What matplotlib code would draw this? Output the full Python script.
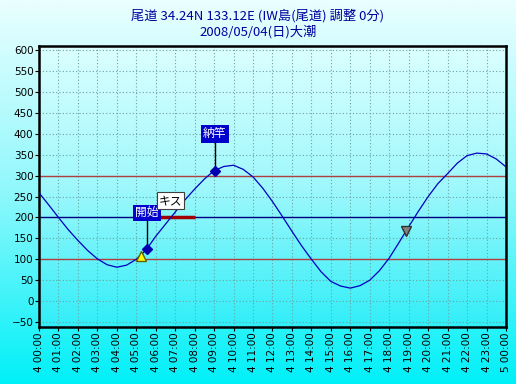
import matplotlib
matplotlib.use('Agg')
import matplotlib.pyplot as plt
import numpy as np
from matplotlib.colors import LinearSegmentedColormap

plt.rcParams['font.family'] = ['Noto Sans CJK JP', 'DejaVu Sans']

# tide level (cm) read every 30 min, 4 00:00 .. 5 00:00
times = [i * 0.5 for i in range(49)]
tide = [259, 230, 200, 171, 145, 121, 101, 87, 81, 86, 100, 122, 155, 184,
        213, 242, 268, 292, 312, 322, 325, 315, 297, 270, 238, 203, 167, 132,
        100, 70, 47, 36, 31, 37, 50, 73, 103, 140, 178, 215, 250, 281, 305,
        330, 348, 354, 352, 340, 321]
hours = list(range(25))
tick_labels = ['4 %02d:00' % h for h in range(24)] + ['5 00:00']

# reference levels
red_levels = [100, 300]
blue_level = 200

# events
start_t, start_v = 5.55, 124      # 開始
end_t, end_v = 9.04, 312          # 納竿
fish_t, fish_v = 6.78, 240        # キス label position
tri_up_t, tri_up_v = 5.25, 107
tri_dn_t, tri_dn_v = 18.85, 167
bar_t = [5.6, 8.0]

fig = plt.figure(figsize=(5.16, 3.84), dpi=100)

# figure gradient background
bg = fig.add_axes([0, 0, 1, 1], zorder=-10)
bg.axis('off')
cm_fig = LinearSegmentedColormap.from_list('f', ['#eaffff', '#8ff8fc', '#00f0f8'])
bg.imshow(np.linspace(0, 1, 256).reshape(-1, 1), aspect='auto', cmap=cm_fig,
          extent=[0, 1, 0, 1], origin='upper')

ax = fig.add_axes([0.0756, 0.1484, 0.9050, 0.7316])
ax.set_xlim(0, 24)
ax.set_ylim(-62, 610)

cm_ax = LinearSegmentedColormap.from_list('a', ['#dcffff', '#9ff8fc', '#30eef8'])
ax.imshow(np.linspace(0, 1, 256).reshape(-1, 1), aspect='auto', cmap=cm_ax,
          extent=[0, 24, -62, 610], origin='upper', zorder=0)

ax.set_yticks(range(-50, 601, 50))
ax.set_xticks(hours)
ax.set_xticklabels(tick_labels, rotation=90, fontsize=7.5, family='DejaVu Sans')
for lb in ax.get_yticklabels():
    lb.set_fontsize(7.5)
    lb.set_family('DejaVu Sans')
ax.grid(True, linestyle=(0, (1, 2)), color='#6aa4a4', linewidth=0.8, zorder=1)
ax.tick_params(length=3, width=0.8, pad=1)
for s in ax.spines.values():
    s.set_linewidth(1.8)
    s.set_color('black')

for lv in red_levels:
    ax.axhline(lv, color='#b04040', linewidth=1.0, zorder=2)
ax.axhline(blue_level, color='#000080', linewidth=1.0, zorder=2)
ax.plot(bar_t, [blue_level, blue_level], color='#a00000', linewidth=2.5,
        solid_capstyle='butt', zorder=3)

ax.plot(times, tide, color='#0000c0', linewidth=0.9, zorder=4)

# connectors
ax.plot([start_t, start_t], [blue_level, start_v], color='black', linewidth=1, zorder=5)
ax.plot([end_t, end_t], [383, end_v], color='black', linewidth=1, zorder=5)

ax.plot(start_t, start_v, marker='D', color='#0000b0', markersize=5, zorder=6)
ax.plot(end_t, end_v, marker='D', color='#0000b0', markersize=5, zorder=6)
ax.plot(tri_up_t, tri_up_v, marker='^', color='#ffff00', markeredgecolor='#606000',
        markersize=7, zorder=6)
ax.plot(tri_dn_t, tri_dn_v, marker='v', color='#808080', markeredgecolor='#303030',
        markersize=7, zorder=6)

ax.text(start_t, 211, '開始', color='white', fontsize=8.5, ha='center', va='center',
        zorder=7, bbox=dict(boxstyle='square,pad=0.15', fc='#0000cc', ec='none'))
ax.text(end_t, 400, '納竿', color='white', fontsize=8.5, ha='center', va='center',
        zorder=7, bbox=dict(boxstyle='square,pad=0.2', fc='#0000cc', ec='none'))
ax.text(fish_t, fish_v, 'キス', color='black', fontsize=8.5, ha='center', va='center',
        zorder=8, bbox=dict(boxstyle='square,pad=0.15', fc='white', ec='#404040', lw=0.8))

fig.text(0.5, 0.958, '尾道 34.24N 133.12E (IW島(尾道) 調整 0分)', ha='center',
         va='center', fontsize=9.5, color='#0000a0')
fig.text(0.5, 0.918, '2008/05/04(日)大潮', ha='center', va='center',
         fontsize=9.5, color='#0000a0')

fig.savefig('out.png', dpi=100)
